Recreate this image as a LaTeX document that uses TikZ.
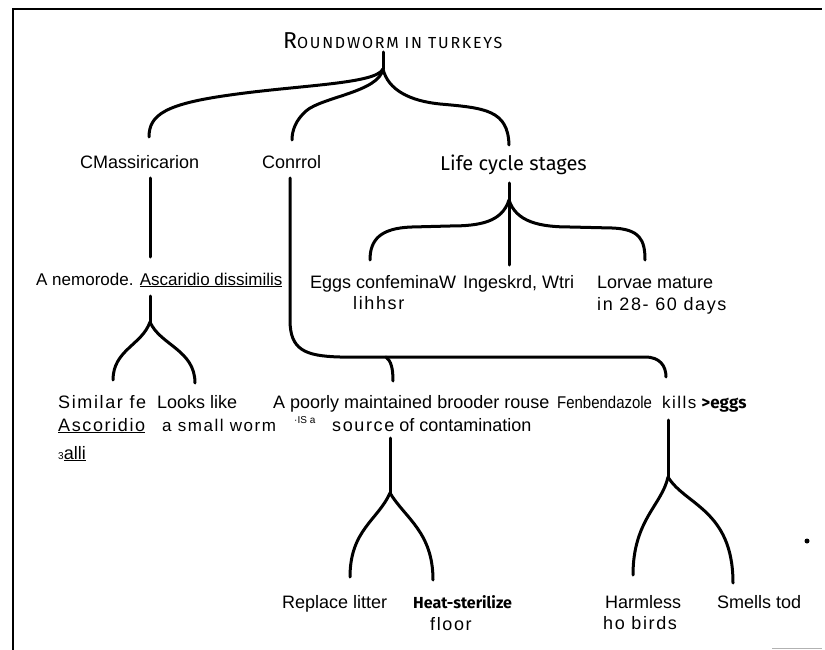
\documentclass[tikz,border=0pt]{standalone}
\usepackage{fontspec}
\usepackage{graphicx}
\setmainfont{Liberation Sans}
\newfontfamily\widefont[LetterSpace=9]{Liberation Sans}
\newfontfamily\handfont{Fira Sans}
\newfontfamily\titlefont[LetterSpace=11]{Fira Sans}
\usetikzlibrary{arrows.meta}

\begin{document}
\begin{tikzpicture}[x=1pt, y=-1pt,
	txt/.style={anchor=base west, inner sep=0pt, font=\fontsize{18}{21}\selectfont},
	wtxt/.style={txt, font=\widefont\fontsize{18}{21}\selectfont},
	hand/.style={anchor=base west, inner sep=0pt, font=\handfont\fontsize{20}{23}\selectfont},
	wire/.style={line width=3pt, line cap=round, line join=round}]
	\useasboundingbox (0,0) rectangle (825,650);
	% Frame of the scanned sheet:
	\draw[line width=1.6pt] (13,650) -- (13,9) -- (822,9);
	\draw[gray!60, line width=1pt] (772,648) -- (822,648);
	\fill (807,541) circle (2.5);
	% Texts:
	\node[anchor=base west, inner sep=0pt, font=\titlefont] (title) at (283,49) {{\fontsize{23}{23}\selectfont R}\fontsize{16}{16}\selectfont OUNDWORM IN TURKEYS};
	\node[txt] (cls) at (80,168) {CMassiricarion};
	\node[txt] (ctl) at (262,168) {Conrrol};
	\node[hand] (life) at (440,171) {Life cycle stages};
	\node[txt, font=\fontsize{17}{20}\selectfont] (nem) at (36,285) {A nemorode. \underline{Ascaridio dissimilis}};
	\node[txt] (eggs) at (310,288) {Eggs confeminaW};
	\node[wtxt] (eggs2) at (353,309) {lihhsr};
	\node[txt] (ing) at (463,288) {Ingeskrd, Wtri};
	\node[txt] (lor) at (597,288) {Lorvae mature};
	\node[wtxt] (lor2) at (597,310) {in 28- 60 days};
	\node[wtxt] (sim) at (58,408) {Similar fe};
	\node[wtxt] (sim2) at (58,431) {\underline{Ascoridio}};
	\node[txt] (sim3) at (58,459) {{\fontsize{10}{10}\selectfont 3}\underline{alli}};
	\node[txt] (look) at (157,408) {Looks like};
	\node[wtxt, font=\widefont\fontsize{17}{20}\selectfont] (look2) at (162,431) {a small worm};
	\node[txt] (poor) at (273,408) {A poorly maintained brooder rouse};
	\node[txt, font=\fontsize{10}{10}\selectfont] (isa) at (294,423) {·IS a};
	\node[txt] (src) at (332,431) {{\widefont source} of contamination};
	\node[txt, font=\fontsize{17}{20}\selectfont] (fen) at (557,408) {\scalebox{0.88}[1]{Fenbendazole}\hspace{10pt}{\widefont kills}\hspace{5pt}{\handfont\bfseries >eggs}};
	\node[txt] (rep) at (282,608) {Replace litter};
	\node[hand, font=\handfont\bfseries\fontsize{16}{18}\selectfont] (heat) at (413,608) {Heat-sterilize};
	\node[wtxt] (floor) at (430,630) {floor};
	\node[txt] (harm) at (605,608) {Harmless};
	\node[wtxt] (harm2) at (603,629) {ho birds};
	\node[txt] (smell) at (717,608) {Smells tod};
	% Ends and forks of the strokes:
	\coordinate (top) at (383,52);
	\coordinate (root) at (383,69);
	\coordinate (clsin) at (149,137);
	\coordinate (ctlin) at (292,140);
	\coordinate (lifein) at (509,145);
	\coordinate (clsout) at (150,178);
	\coordinate (nemin) at (150,257);
	\coordinate (nemout) at (150,296);
	\coordinate (jcls) at (150,322);
	\coordinate (simin) at (113,380);
	\coordinate (lookin) at (195,383);
	\coordinate (ctlout) at (290,178);
	\coordinate (bar) at (386,357);
	\coordinate (poorin) at (393,381);
	\coordinate (fenin) at (666,377);
	\coordinate (srcout) at (390,438);
	\coordinate (jsrc) at (390,493);
	\coordinate (repin) at (350,577);
	\coordinate (heatin) at (433,580);
	\coordinate (fenout) at (668,420);
	\coordinate (jfen) at (668,477);
	\coordinate (harmin) at (633,575);
	\coordinate (smellin) at (733,583);
	\coordinate (lifeout) at (509,183);
	\coordinate (jlife) at (509,200);
	\coordinate (ingin) at (509,265);
	\coordinate (eggsin) at (370,260);
	\coordinate (lorin) at (645,260);
	% Strokes:
	\draw[wire] (top) -- (root);
	\draw[wire] (root) .. controls (376,84) and (300,85) .. (230,95) .. controls (165,104) and (149,115) .. (clsin);
	\draw[wire] (root) .. controls (379,92) and (322,97) .. (306,111) .. controls (296,120) and (292,130) .. (ctlin);
	\draw[wire] (root) .. controls (388,90) and (410,101) .. (440,104) .. controls (485,108) and (508,110) .. (lifein);
	\draw[wire] (clsout) -- (nemin);
	\draw[wire] (nemout) -- (jcls);
	\draw[wire] (jcls) .. controls (142,345) and (113,350) .. (simin);
	\draw[wire] (jcls) .. controls (160,345) and (195,350) .. (lookin);
	\draw[wire] (ctlout) -- (290,320) .. controls (290,350) and (305,356) .. (340,357) -- (645,357) .. controls (660,357) and (666,366) .. (fenin);
	\draw[wire] (bar) .. controls (391,361) and (393,368) .. (poorin);
	\draw[wire] (srcout) -- (jsrc);
	\draw[wire] (jsrc) .. controls (378,520) and (350,530) .. (repin);
	\draw[wire] (jsrc) .. controls (405,518) and (433,532) .. (heatin);
	\draw[wire] (fenout) -- (jfen);
	\draw[wire] (jfen) .. controls (662,505) and (633,520) .. (harmin);
	\draw[wire] (jfen) .. controls (685,505) and (733,510) .. (smellin);
	\draw[wire] (lifeout) -- (ingin);
	\draw[wire] (jlife) .. controls (502,222) and (480,226) .. (450,226) -- (412,227) .. controls (380,228) and (370,240) .. (eggsin);
	\draw[wire] (jlife) .. controls (516,222) and (540,227) .. (570,227) -- (612,228) .. controls (640,229) and (645,240) .. (lorin);
\end{tikzpicture}
\end{document}
